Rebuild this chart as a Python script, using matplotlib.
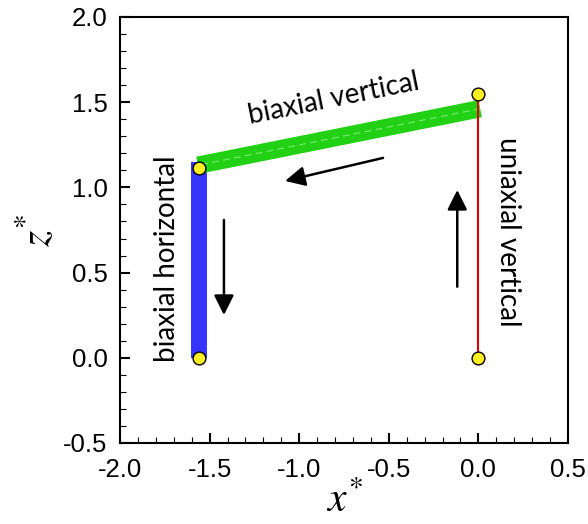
import matplotlib
matplotlib.use("Agg")
import matplotlib.pyplot as plt
from matplotlib.ticker import MultipleLocator

# ---- data ----
uniaxial_x = [0.0, 0.0]
uniaxial_z = [0.0, 1.55]
biax_vert_x = [0.01, -1.565]
biax_vert_z = [1.462, 1.13]
biax_horiz_x = [-1.56, -1.56]
biax_horiz_z = [1.15, 0.0]
points_x = [0.0, 0.0, -1.56, -1.56]
points_z = [0.0, 1.55, 1.115, 0.0]

arrows = [  # (x_tail, z_tail, x_head, z_head)
    (-0.532, 1.173, -1.079, 1.038),
    (-1.420, 0.809, -1.420, 0.251),
    (-0.118, 0.417, -0.118, 0.985),
]

labels = ["biaxial vertical", "biaxial horizontal", "uniaxial vertical"]
label_x = [-0.806, -1.738, 0.165]
label_z = [1.519, 0.58, 0.738]
label_rot = [11.5, 90, -90]

xticks = [-2.0, -1.5, -1.0, -0.5, 0.0, 0.5]
zticks = [-0.5, 0.0, 0.5, 1.0, 1.5, 2.0]

plt.rcParams['mathtext.fontset'] = 'stix'

fig = plt.figure(figsize=(5.88, 5.24), dpi=100)
ax = fig.add_axes([120/588, 81/524, 448/588, 426/524])

ax.plot(biax_horiz_x, biax_horiz_z, color='#3535ff', lw=11.5,
        solid_capstyle='butt', zorder=2)
ax.plot(biax_vert_x, biax_vert_z, color='#22d014', lw=12.5,
        solid_capstyle='butt', zorder=3)
ax.plot(biax_vert_x, biax_vert_z, color='#80e878', lw=0.8, ls=(0, (6, 4)),
        zorder=3.5)
ax.plot(uniaxial_x, uniaxial_z, color='#e00000', lw=1.5, zorder=4)
ax.plot(points_x, points_z, 'o', ms=9.2, mfc='#ffee22', mec='black',
        mew=1.0, zorder=5, clip_on=False)

for (x0, z0, x1, z1) in arrows:
    ax.annotate('', xy=(x1, z1), xytext=(x0, z0),
                arrowprops=dict(arrowstyle='-|>,head_length=0.6,head_width=0.3',
                                mutation_scale=20, lw=1.8, color='black',
                                shrinkA=0, shrinkB=0), zorder=6)

for t, x, z, r in zip(labels, label_x, label_z, label_rot):
    ax.text(x, z, t, rotation=r, rotation_mode='anchor', ha='center',
            va='center', fontsize=20, family='Lato', color='black')

ax.set_xlim(-2.0, 0.5)
ax.set_ylim(-0.5, 2.0)
ax.set_xticks(xticks)
ax.set_yticks(zticks)
ax.set_xticklabels([f"{v:.1f}" for v in xticks])
ax.set_yticklabels([f"{v:.1f}" for v in zticks])
ax.xaxis.set_minor_locator(MultipleLocator(0.1))
ax.yaxis.set_minor_locator(MultipleLocator(0.1))
ax.tick_params(which='both', direction='in', top=False, right=False)
ax.tick_params(which='major', length=7.5, width=1.5, labelsize=18.5)
ax.tick_params(axis='x', which='major', pad=11)
ax.tick_params(axis='y', which='major', pad=9)
ax.tick_params(which='minor', length=4, width=0.8)
for lab in ax.get_xticklabels() + ax.get_yticklabels():
    lab.set_family('Liberation Sans')
for s in ax.spines.values():
    s.set_linewidth(1.5)

ax.set_xlabel(r'$x^{*}$', fontsize=30, labelpad=-2)
ax.set_ylabel(r'$z^{*}$', fontsize=30, labelpad=3)

fig.savefig('out.png', dpi=100)
